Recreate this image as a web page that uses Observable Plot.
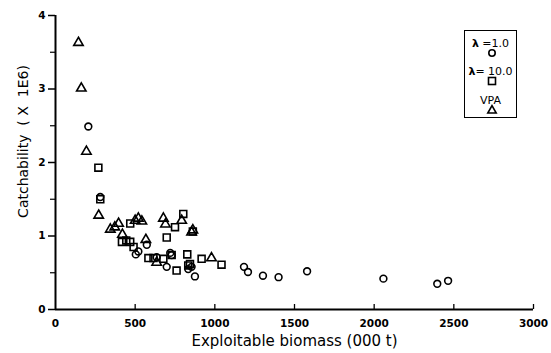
<!DOCTYPE html>
<html><head><meta charset="utf-8">
<script src="https://cdn.jsdelivr.net/npm/d3@7"></script>
<script src="https://cdn.jsdelivr.net/npm/@observablehq/plot@0.6"></script>
<style>
body{margin:0;background:#fff;}
#wrap{position:relative;width:551px;height:353px;}
#legend{position:absolute;left:464px;top:30px;width:53px;height:88px;border:1.5px solid #000;box-sizing:border-box;font-family:"DejaVu Sans",sans-serif;font-size:11px;color:#000;}
#legend .t{position:absolute;left:0;width:100%;text-align:center;line-height:12px;white-space:nowrap;}
#legend .t b{font-weight:bold;}
#legend svg{position:absolute;overflow:visible;}
</style></head><body><div id="wrap"></div>
<script>
// lambda = 1.0 (circles)
const lam1X = [206, 281, 504, 520, 573, 635, 698, 720, 729, 833, 854, 875, 1183, 1208, 1302, 1400, 1579, 2058, 2396, 2464];
const lam1Y = [2.49, 1.53, 0.75, 0.79, 0.88, 0.71, 0.58, 0.77, 0.74, 0.55, 0.58, 0.45, 0.58, 0.51, 0.46, 0.44, 0.52, 0.42, 0.35, 0.39];
// lambda = 10.0 (squares)
const lam10X = [269, 281, 417, 444, 469, 469, 490, 583, 615, 677, 698, 729, 750, 760, 802, 827, 833, 844, 862, 917, 1042];
const lam10Y = [1.93, 1.50, 0.92, 0.94, 0.92, 1.17, 0.85, 0.70, 0.70, 0.69, 0.98, 0.74, 1.12, 0.53, 1.30, 0.75, 0.60, 0.62, 1.06, 0.69, 0.61];
// VPA (triangles)
const vpaX = [144, 162, 194, 271, 344, 372, 396, 420, 500, 520, 542, 567, 635, 677, 690, 792, 854, 862, 979];
const vpaY = [3.63, 3.01, 2.15, 1.28, 1.09, 1.12, 1.17, 1.02, 1.21, 1.24, 1.20, 0.95, 0.64, 1.24, 1.16, 1.21, 1.05, 1.08, 0.70];

const xTicks = [0, 500, 1000, 1500, 2000, 2500, 3000];
const yTicks = [0, 1, 2, 3, 4];
const yMinor = [0.5, 1.5, 2.5, 3.5];
const xTitle = "Exploitable biomass (000 t)";
const yTitle = "Catchability\u00a0\u00a0(\u00a0X\u00a0\u00a01E6)";
const legendNums = ["\u00a0=1.0", "= 10.0"];
const legendLast = "VPA";

const toRows = (xs, ys) => xs.map((x, i) => ({x, y: ys[i]}));
const circles = toRows(lam1X, lam1Y);
const squares = toRows(lam10X, lam10Y);
const triangles = toRows(vpaX, vpaY);

const dotStyle = {x: "x", y: "y", fill: "none", stroke: "#000", strokeWidth: 1.6};
const font = "DejaVu Sans, sans-serif";

const chart = Plot.plot({
  width: 551,
  height: 353,
  marginLeft: 55,
  marginRight: 18,
  marginTop: 15,
  marginBottom: 44,
  style: {fontFamily: font, fontSize: "10.5px", background: "#fff", color: "#000"},
  x: {domain: [0, 3000]},
  y: {domain: [0, 4]},
  marks: [
    Plot.axisY({ticks: yTicks, tickSize: 7, tickPadding: 3, tickFormat: d => String(d), strokeWidth: 1.5, fontWeight: "bold", label: null}),
    Plot.axisY({ticks: yMinor, tickSize: 5, tickFormat: () => "", strokeWidth: 1.2, label: null}),
    Plot.axisX({ticks: xTicks, tickSize: 0, tickPadding: 10, tickFormat: d => String(d), fontWeight: "bold", label: null}),
    Plot.axisX({ticks: xTicks.slice(1), tickSize: -5, tickFormat: () => "", strokeWidth: 1.3, label: null}),
    Plot.text([xTitle], {text: d => d, frameAnchor: "bottom", dy: 32, lineAnchor: "middle", fontSize: 15, fontFamily: font, fill: "#000"}),
    Plot.text([yTitle], {text: d => d, frameAnchor: "left", dx: -32, dy: -21, rotate: -90, lineAnchor: "middle", textAnchor: "middle", fontSize: 14, fontFamily: font, fill: "#000"}),
    Plot.ruleY([0], {strokeWidth: 2}),
    Plot.ruleX([0], {strokeWidth: 2}),
    Plot.dot(circles, {...dotStyle, symbol: "circle", r: 3.4}),
    Plot.dot(squares, {...dotStyle, symbol: "square", r: 3.9}),
    Plot.dot(triangles, {...dotStyle, symbol: "triangle", r: 3.5})
  ]
});
const wrap = document.getElementById("wrap");
wrap.appendChild(chart);

const lg = document.createElement("div");
lg.id = "legend";
const symbols = [
  '<circle cx="0" cy="0" r="3.2" fill="none" stroke="#000" stroke-width="1.6"/>',
  '<rect x="-3.5" y="-3.5" width="7" height="7" fill="none" stroke="#000" stroke-width="1.6"/>',
  '<path d="M0,-4.4L4.2,3H-4.2Z" fill="none" stroke="#000" stroke-width="1.6"/>'
];
const textTops = [7, 35, 64];
const symTops = [22, 50, 79];
[0, 1, 2].forEach(i => {
  const t = document.createElement("div");
  t.className = "t";
  t.style.top = textTops[i] + "px";
  if (i < 2) {
    const b = document.createElement("b");
    b.textContent = "\u03bb";
    t.appendChild(b);
    t.appendChild(document.createTextNode(legendNums[i]));
  } else {
    t.textContent = legendLast;
  }
  lg.appendChild(t);
  const s = document.createElementNS("http://www.w3.org/2000/svg", "svg");
  s.setAttribute("width", "1"); s.setAttribute("height", "1");
  s.style.left = "27px"; s.style.top = symTops[i] + "px";
  s.innerHTML = symbols[i];
  lg.appendChild(s);
});
wrap.appendChild(lg);
</script>
</body></html>
